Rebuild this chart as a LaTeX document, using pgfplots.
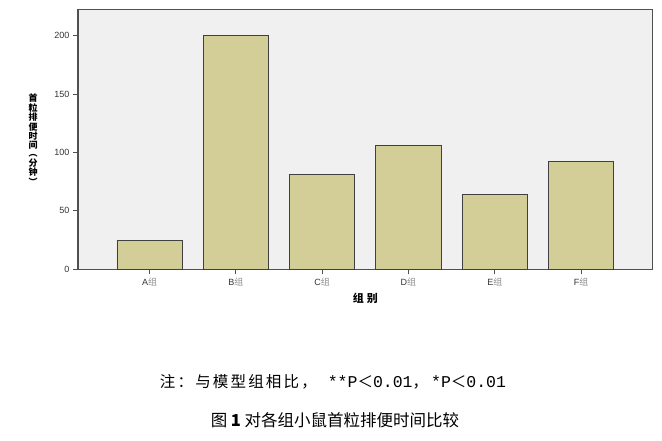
\documentclass[border=0pt]{standalone}
\usepackage{fontspec}
\setmainfont{Liberation Sans}
\newfontfamily\cjk{Noto Sans CJK SC}
\newfontfamily\cjknote[LetterSpace=14]{Noto Sans CJK SC}
\newfontfamily\mono{Liberation Mono}
\newcommand{\asc}[1]{{\mono\fontsize{16.5}{18}\selectfont #1}}
\usepackage{pgfplots}
\pgfplotsset{compat=1.18}
\definecolor{barfill}{RGB}{211,206,151}
\definecolor{plotbg}{RGB}{240,240,240}
\definecolor{framegray}{RGB}{80,80,80}
\begin{document}
\begin{tikzpicture}
\path[use as bounding box] (0pt,0pt) rectangle (662pt,440pt);
\begin{axis}[
    at={(78pt,170.7pt)}, anchor=south west,
    scale only axis, width=574.7pt, height=259.8pt,
    xmin=-0.83, xmax=5.83, ymin=0, ymax=222.4,
    axis background/.style={fill=plotbg},
    axis line style={framegray, line width=1.1pt},
    ybar, bar width=0.757,
    xtick={0,1,2,3,4,5},
    xticklabels={A{\cjk\color{black!45}组}, B{\cjk\color{black!45}组}, C{\cjk\color{black!45}组},
                 D{\cjk\color{black!45}组}, E{\cjk\color{black!45}组}, F{\cjk\color{black!45}组}},
    ytick={0,50,100,150,200},
    tick pos=left, tick align=outside,
    major tick length=5pt,
    tick style={framegray, line width=0.9pt},
    ticklabel style={font=\fontsize{9}{10}\selectfont, text=black!80},
    /pgf/number format/assume math mode=true,
    xlabel={组\hspace{3pt}别},
    xlabel style={font=\cjk\bfseries\fontsize{11}{12}\selectfont, at={(axis description cs:0.5,-0.11)}, anchor=center},
    ylabel={首\\粒\\排\\便\\时\\间\\︵\\分\\钟\\︶},
    ylabel style={rotate=-90, align=center, font=\cjk\bfseries\fontsize{9}{8}\selectfont,
                  at={(axis description cs:-0.078,0.5)}, anchor=center},
]
\addplot[fill=barfill, draw=black!75, line width=0.8pt]
    coordinates {(0,25) (1,200) (2,81) (3,106) (4,64.3) (5,92.5)};
\end{axis}
\node[font=\cjknote\fontsize{15.5}{18}\selectfont] at (333pt,58.3pt)
    {注：与模型组相比，\hspace{11pt}\asc{**P}＜\asc{0.01}，\hspace{3pt}\asc{*P}＜\asc{0.01}};
\node[font=\cjk\fontsize{16.5}{18}\selectfont] at (335pt,20pt) {图 \textbf{1} 对各组小鼠首粒排便时间比较};
\end{tikzpicture}
\end{document}
